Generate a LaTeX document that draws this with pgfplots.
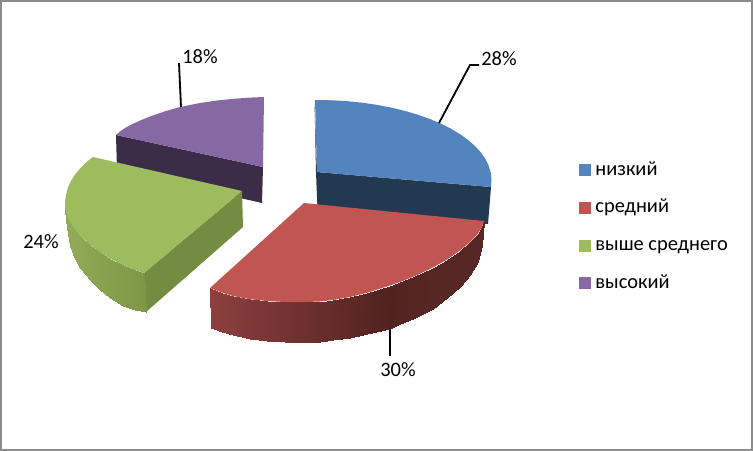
\documentclass[border=0pt]{standalone}
\usepackage{fontspec}
\setmainfont{Carlito}
\usepackage{pgfplots}
\pgfplotsset{compat=1.18}
\definecolor{blueT}{RGB}{83,132,192}
\definecolor{blueS}{RGB}{35,57,82}
\definecolor{redT}{RGB}{193,85,82}
\definecolor{greenT}{RGB}{157,188,94}
\definecolor{greenS}{RGB}{116,140,65}
\definecolor{purpleT}{RGB}{134,104,164}
\definecolor{purpleS}{RGB}{59,44,72}
\definecolor{frame}{RGB}{140,140,140}
\newcommand{\lbl}{\fontsize{20.5}{24}\selectfont}
\pgfplotsset{
    pp/.style={forget plot,draw=none,fill=#1},
    leader/.style={forget plot,black,line width=1.8bp},
    curved/.style={forget plot,surf,shader=interp,mesh/rows=2,point meta=explicit},
}
\begin{document}
\begin{tikzpicture}
\begin{axis}[
    scale only axis,
    width=753bp, height=451bp,
    xmin=0, xmax=753, ymin=0, ymax=451,
    y dir=reverse,
    hide axis,
    colormap={piesides}{rgb255(0pt)=(140,64,62) rgb255(40pt)=(82,35,33) rgb255(45pt)=(86,39,37) rgb255(50pt)=(145,171,88) rgb255(100pt)=(125,151,70)},
    point meta min=0, point meta max=100,
    legend style={
        at={(axis cs:579,161)}, anchor=north west, draw=none, fill=none,
        font=\lbl,
        row sep=19.7bp, inner sep=0pt, outer sep=0pt,
        nodes={inner sep=0pt, text height=14bp, text depth=4bp},
    },
    legend cell align=left,
    legend image code/.code={\fill[#1] (0bp,-5.5bp) rectangle (11bp,5.5bp); \path (16bp,0bp);},
]
% frame
\addplot[forget plot,fill=white,draw=frame,line width=4bp] coordinates {(0,0) (753,0) (753,451) (0,451)} -- cycle;

\addlegendimage{blueT}
\addlegendimage{redT}
\addlegendimage{greenT}
\addlegendimage{purpleT}

% purple slice
\addplot[pp=purpleS] coordinates {(116,135) (263,167) (262,203) (117,170)} -- cycle;
\addplot[pp=purpleT] coordinates {(264,97) (263,167) (116,135) (120,131.5) (125,128) (133,123.7) (140,120.6) (150,116.5) (165,111.3) (180,107) (200,103) (217,100.5) (235,98.7) (250,97.6)} -- cycle;

% blue slice
\addplot[pp=blueS] coordinates {(314.5,100) (317,172) (491,187) (488,224) (317.5,210) (316,172)} -- cycle;
\addplot[pp=blueT] coordinates {(315,100) (317,172) (491,187) (491.5,180) (490.8,173) (488.9,166.1) (485.6,159.3) (481,152.6) (475.2,146.2) (468.1,140) (459.9,134.1) (450.7,128.6) (440.4,123.4) (429.2,118.7) (417.1,114.5) (404.3,110.7) (390.7,107.5) (376.7,104.8) (362.2,102.7) (347.3,101.2) (332.2,100.3)} -- cycle;

% green slice
\addplot[pp=greenS] coordinates {(144,273) (242,191) (243,227) (146,312)} -- cycle;
\addplot[curved] table [meta=c] {
x y c
65 203 50
65.3 208 50.2
66.2 212.5 50.7
67.8 217 51.7
70 222 53
75 229.5 56
80 235.5 59
90 244.5 65
100 252 72
110 258.5 78
123 265 86
135 270 93
144 273 100
65 203 50
65.3 210 50.2
66.2 220 50.7
67.8 234 51.7
70 246 53
75 259 56
80 268 59
90 280 65
100 290 72
110 298 78
123 305.5 86
135 309.5 93
146 312 100
};
\addplot[pp=greenT] coordinates {(144,273) (242,191) (93,157) (89,160) (85,163.5) (81,167.5) (77.5,171.5) (74,176) (71,181) (68.5,186) (66.8,191.5) (65.6,197) (65,203) (65.3,208) (66.2,212.5) (67.8,217) (70,222) (75,229.5) (80,235.5) (90,244.5) (100,252) (110,258.5) (123,265) (135,270)} -- cycle;

% red slice
\addplot[curved] table [meta=c] {
x y c
210 288 0
222 292.5 2.7
233 296 5.3
250 299.2 9.1
267 301 13
285 302 17.1
300 302.2 20.6
320 301.5 25.1
333 300 28.1
350 297 32
367 292.8 35.9
390 285.5 40
400 282 41
415 276 43
433 267.5 45
447 259.5 45
460 250.5 45
470 242 45
478 233.5 45
482 227 45
484 221 45
211 328 0
222 332 2.7
233 335.3 5.3
250 338.7 9.1
267 340.8 13
285 341.9 17.1
300 342.2 20.6
320 341.6 25.1
333 340.4 28.1
350 337.8 32
367 334 35.9
390 329 40
400 324 41
415 318 43
433 308.5 45
447 298 45
460 286.5 45
470 274.5 45
478 261.5 45
482 245 45
484 221 45
};
\addplot[pp=redT] coordinates {(304,203) (484,221) (482,227) (478,233.5) (470,242) (460,250.5) (447,259.5) (433,267.5) (415,276) (400,282) (390,285.5) (367,292.8) (350,297) (333,300) (320,301.5) (300,302.2) (285,302) (267,301) (250,299.2) (233,296) (222,292.5) (210,288)} -- cycle;

% leader lines
\addplot[leader] coordinates {(439,123) (470,65) (479,65)};
\addplot[leader] coordinates {(390,330) (390,356)};
\addplot[leader] coordinates {(181,107) (179,63)};

\addlegendentry{низкий}
\addlegendentry{средний}
\addlegendentry{выше среднего}
\addlegendentry{высокий}

\node[font=\lbl] at (axis cs:499,59) {28\%};
\node[font=\lbl] at (axis cs:398,370) {30\%};
\node[font=\lbl] at (axis cs:41,242) {24\%};
\node[font=\lbl] at (axis cs:200,57) {18\%};
\end{axis}
\end{tikzpicture}
\end{document}
